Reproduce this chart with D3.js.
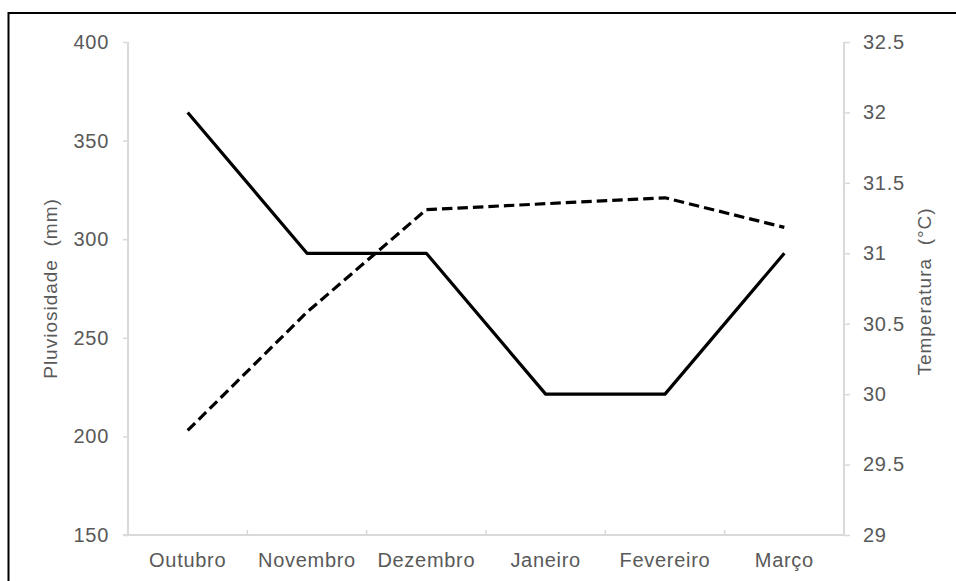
<!DOCTYPE html>
<html>
<head>
<meta charset="utf-8">
<script src="https://cdn.jsdelivr.net/npm/d3@7/dist/d3.min.js"></script>
<style>
  html, body { margin: 0; padding: 0; background: #fff; }
  svg { display: block; }
  text { font-family: "Liberation Sans", Arial, sans-serif; fill: #595959; }
</style>
</head>
<body>
<svg id="chart" width="956" height="581"></svg>
<script>
// Monthly rainfall (left axis) and temperature (right axis)
const months = ["Outubro", "Novembro", "Dezembro", "Janeiro", "Fevereiro", "Março"];
const pluviosidade = [203, 263, 315, 318, 321, 306];   // mm, dashed line
const temperatura = [32, 31, 31, 30, 30, 31];          // °C, solid line
const leftTicks = [150, 200, 250, 300, 350, 400];
const rightTicks = [29, 29.5, 30, 30.5, 31, 31.5, 32, 32.5];

const svg = d3.select("#chart");
const plot = { left: 128, right: 844, top: 42, bottom: 535 };
const axisColor = "#d9d9d9";
const fontSize = 20;

// Outer frame
svg.append("rect")
  .attr("x", 8.5).attr("y", 13)
  .attr("width", 1000).attr("height", 1000)
  .attr("fill", "none").attr("stroke", "#000").attr("stroke-width", 2);

const x = d3.scaleBand().domain(months).range([plot.left, plot.right]);
const yL = d3.scaleLinear().domain([150, 400]).range([plot.bottom, plot.top]);
const yR = d3.scaleLinear().domain([29, 32.5]).range([plot.bottom, plot.top]);

function styleAxis(g) {
  g.select(".domain").remove();
  g.selectAll(".tick line").attr("stroke", axisColor).attr("stroke-width", 1.5);
  g.selectAll(".tick text")
    .attr("font-size", fontSize)
    .style("letter-spacing", "0.7px")
    .attr("fill", "#595959");
}

// Left axis
const gL = svg.append("g")
  .attr("transform", `translate(${plot.left},0)`)
  .call(d3.axisLeft(yL).tickValues(leftTicks).tickSize(5).tickSizeOuter(0).tickPadding(14)
        .tickFormat(d3.format("d")));
styleAxis(gL);
gL.append("line")
  .attr("x1", 0).attr("x2", 0).attr("y1", plot.top).attr("y2", plot.bottom)
  .attr("stroke", axisColor).attr("stroke-width", 2);

// Right axis
const gR = svg.append("g")
  .attr("transform", `translate(${plot.right},0)`)
  .call(d3.axisRight(yR).tickValues(rightTicks).tickSize(6).tickSizeOuter(0).tickPadding(13)
        .tickFormat(d => d3.format("~g")(d)));
styleAxis(gR);
gR.append("line")
  .attr("x1", 0).attr("x2", 0).attr("y1", plot.top).attr("y2", plot.bottom)
  .attr("stroke", axisColor).attr("stroke-width", 2);

// Bottom axis: labels centred in each band, tick marks on band boundaries
const gB = svg.append("g").attr("transform", `translate(0,${plot.bottom})`);
gB.append("line")
  .attr("x1", plot.left - 5).attr("x2", plot.right)
  .attr("y1", 0).attr("y2", 0)
  .attr("stroke", axisColor).attr("stroke-width", 2);
gB.selectAll("line.bound")
  .data(months.slice(1))
  .join("line")
  .attr("class", "bound")
  .attr("x1", d => x(d)).attr("x2", d => x(d))
  .attr("y1", 0).attr("y2", -5)
  .attr("stroke", axisColor).attr("stroke-width", 1.5);
gB.selectAll("text")
  .data(months)
  .join("text")
  .attr("x", d => x(d) + x.bandwidth() / 2)
  .attr("y", 32)
  .attr("text-anchor", "middle")
  .attr("font-size", fontSize)
  .style("letter-spacing", "0.7px")
  .text(d => d);

// Axis titles
svg.append("text")
  .attr("transform", `translate(57,${(plot.top + plot.bottom) / 2}) rotate(-90)`)
  .attr("text-anchor", "middle")
  .attr("font-size", 19)
  .style("letter-spacing", "1px")
  .attr("xml:space", "preserve")
  .text("Pluviosidade  (mm)");

svg.append("text")
  .attr("transform", `translate(931,${(plot.top + plot.bottom) / 2 + 3}) rotate(-90)`)
  .attr("text-anchor", "middle")
  .attr("font-size", 19)
  .style("letter-spacing", "1px")
  .attr("xml:space", "preserve")
  .text("Temperatura  (°C)");

const cx = d => x(d) + x.bandwidth() / 2;

// Rainfall: dashed line on left scale
svg.append("path")
  .datum(months.map((m, i) => [cx(m), yL(pluviosidade[i])]))
  .attr("d", d3.line())
  .attr("fill", "none")
  .attr("stroke", "#000")
  .attr("stroke-width", 3.2)
  .attr("stroke-dasharray", "10.5,5")
  .attr("stroke-linejoin", "round");

// Temperature: solid line on right scale
svg.append("path")
  .datum(months.map((m, i) => [cx(m), yR(temperatura[i])]))
  .attr("d", d3.line())
  .attr("fill", "none")
  .attr("stroke", "#000")
  .attr("stroke-width", 3.2)
  .attr("stroke-linejoin", "round");
</script>
</body>
</html>
